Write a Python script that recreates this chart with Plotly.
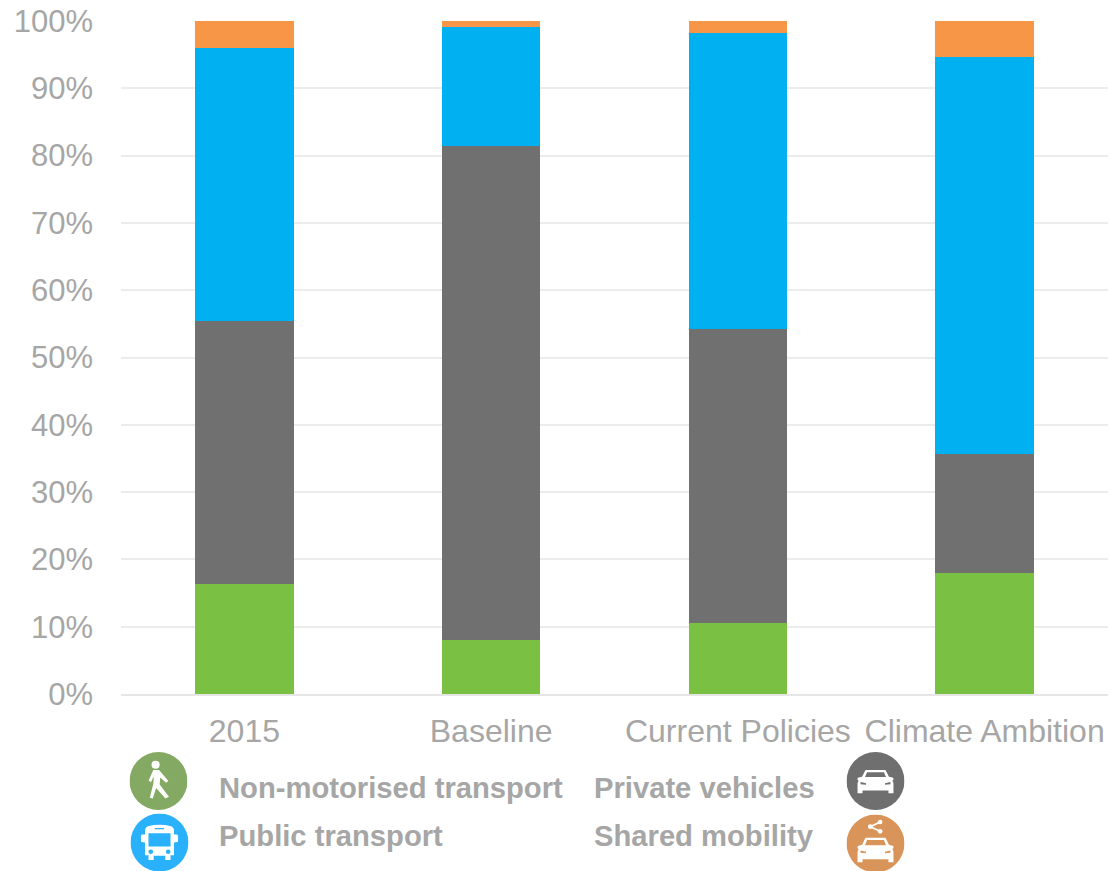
import base64
import plotly.graph_objects as go

W, H = 1109, 871
LEFT, RIGHT, TOP, BOTTOM = 121, 1, 21, 177

categories = ["2015", "Baseline", "Current Policies", "Climate Ambition"]
non_motorised = [16.4, 8.0, 10.6, 18.0]
private_vehicles = [39.0, 73.4, 43.6, 17.7]
public_transport = [40.6, 17.7, 44.0, 58.9]
shared_mobility = [4.0, 0.9, 1.8, 5.4]
tick_values = list(range(0, 101, 10))
tick_labels = [f"{v}%" for v in tick_values]

GREY_TEXT = "#a6a6a6"
FONT = "Liberation Sans, Arial, sans-serif"

CAR = (
    '<path fill="#fff" d="M30 24 L70 24 L77 39 L84 41 Q87 42 86 46 L84 48 L86 54 L86 76 '
    'L76 76 L76 70 L24 70 L24 76 L14 76 L14 54 L16 48 L14 46 Q13 42 16 41 L23 39 Z"/>'
    '<path fill="{c}" d="M33 29 L67 29 L71 40 L29 40 Z"/>'
    '<path fill="{c}" d="M20 51 L31 54 L31 57 L20 56 Z M80 51 L69 54 L69 57 L80 56 Z"/>'
)


def svg(body):
    doc = f'<svg xmlns="http://www.w3.org/2000/svg" viewBox="0 0 100 100" width="100" height="100">{body}</svg>'
    return "data:image/svg+xml;base64," + base64.b64encode(doc.encode()).decode()


walker = (
    '<circle cx="50" cy="50" r="50" fill="#84a963"/>'
    '<circle cx="45" cy="22" r="7" fill="#fff"/>'
    '<path fill="#fff" d="M41 31 L51 31 L67 50 L63 53 L53 44 L52 56 L68 77 L62 80 L46 62 L40 80 L35 79 L41 55 L42 42 L37 52 L33 49 Z"/>'
)
bus = (
    '<circle cx="50" cy="50" r="50" fill="#29b1fb"/>'
    '<path fill="#fff" d="M30 22 Q50 17 70 22 Q75 24 75 30 L75 36 L80 36 Q82 36 82 40 L82 48 Q82 50 75 50 '
    'L75 72 L69 72 L69 80 L60 80 L60 73 L40 73 L40 80 L31 80 L31 72 L25 72 L25 50 Q18 50 18 48 L18 40 Q18 36 20 36 L25 36 L25 30 Q25 24 30 22 Z"/>'
    '<path fill="#29b1fb" d="M31 34 L69 34 L69 57 L31 57 Z M42 25 L58 25 L58 27 L42 27 Z"/>'
    '<circle cx="35" cy="66" r="4" fill="#29b1fb"/><circle cx="65" cy="66" r="4" fill="#29b1fb"/>'
)
car = (
    '<circle cx="50" cy="50" r="50" fill="#6f6f6f"/>'
    '<g transform="translate(7 12.5) scale(0.86 0.77)">' + CAR.format(c="#6f6f6f") + "</g>"
)
shared = (
    '<circle cx="50" cy="50" r="50" fill="#d99559"/>'
    '<g transform="translate(7 20.6) scale(0.86 0.81)">' + CAR.format(c="#d99559") + "</g>"
    '<path stroke="#fff" stroke-width="3" fill="none" d="M58 13 L41 21 L58 29"/>'
    '<circle cx="58" cy="13" r="4" fill="#fff"/><circle cx="41" cy="21" r="4" fill="#fff"/><circle cx="58" cy="29" r="4" fill="#fff"/>'
)


def paper_x(x):
    return (x - LEFT) / (W - LEFT - RIGHT)


def paper_y(y):
    return (H - BOTTOM - y) / (H - TOP - BOTTOM)


def icon(source, cx, cy, d=58):
    return dict(
        source=svg(source), xref="paper", yref="paper", xanchor="left", yanchor="top",
        x=paper_x(cx - d / 2), y=paper_y(cy - d / 2),
        sizex=d / (W - LEFT - RIGHT), sizey=d / (H - TOP - BOTTOM),
        sizing="stretch", layer="above",
    )


def label(text, x, y):
    return dict(
        text=f"<b>{text}</b>", xref="paper", yref="paper", x=paper_x(x), y=paper_y(y),
        xanchor="left", yanchor="middle", showarrow=False,
        font=dict(family=FONT, size=29.2, color=GREY_TEXT),
    )


fig = go.Figure()
for name, values, colour in [
    ("Non-motorised transport", non_motorised, "#7ac143"),
    ("Private vehicles", private_vehicles, "#707070"),
    ("Public transport", public_transport, "#00b0f0"),
    ("Shared mobility", shared_mobility, "#f79646"),
]:
    fig.add_bar(x=categories, y=values, name=name, marker=dict(color=colour, line_width=0), width=0.4)

fig.update_layout(
    width=W, height=H, autosize=False, barmode="stack", showlegend=False,
    margin=dict(l=LEFT, r=RIGHT, t=TOP, b=BOTTOM, pad=0),
    paper_bgcolor="white", plot_bgcolor="white",
    font=dict(family=FONT, size=32, color=GREY_TEXT),
    images=[
        icon(walker, 158.5, 781),
        icon(bus, 159.5, 842.5),
        icon(car, 875.5, 781),
        icon(shared, 875.5, 843.5),
    ],
    annotations=[
        label("Non-motorised transport", 217, 788),
        label("Public transport", 217, 836),
        label("Private vehicles", 592, 788),
        label("Shared mobility", 592, 836),
    ],
)
fig.update_xaxes(
    type="category", tickangle=0, showgrid=False, zeroline=False, ticks="",
    showline=True, linecolor="#e6e6e6", linewidth=2, ticklabelstandoff=8,
    tickfont=dict(family=FONT, size=32, color=GREY_TEXT),
)
fig.update_yaxes(
    range=[0, 100], tickvals=tick_values, ticktext=tick_labels, showgrid=True,
    gridcolor="#ececec", gridwidth=2, zeroline=False, showline=False, ticks="",
    ticklabelstandoff=27, tickfont=dict(family=FONT, size=31, color=GREY_TEXT),
)

fig.write_html("out.html")
